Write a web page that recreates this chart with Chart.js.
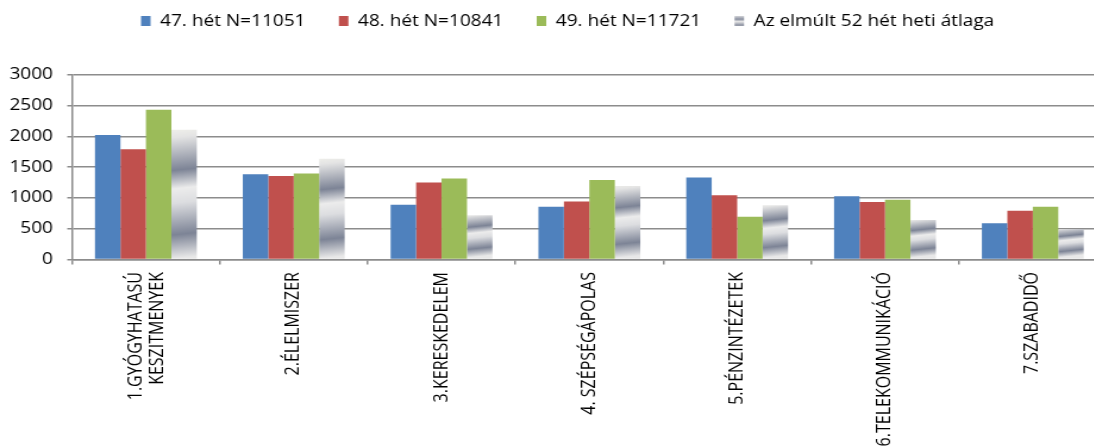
<!DOCTYPE html>
<html><head><meta charset="utf-8">
<script src="https://cdn.jsdelivr.net/npm/chart.js@4.4.1/dist/chart.umd.min.js"></script>
<style>
html,body{margin:0;padding:0;overflow:hidden;background:#fff;width:1094px;height:448px}
#wrap{position:absolute;left:0;top:0;width:930px;height:470px;transform:scaleX(1.19);transform-origin:0 0}
canvas{display:block}
</style></head><body>
<div id="wrap"><canvas id="c" width="930" height="470"></canvas></div>
<script>
const categories = [['1.GYÓGYHATASÚ','KESZITMENYEK'], '2.ÉLELMISZER', '3.KERESKEDELEM', '4. SZÉPSÉGÁPOLAS', '5.PÉNZINTÉZETEK', '6.TELEKOMMUNIKÁCIÓ', '7.SZABADIDŐ'];
const seriesNames = ['47. hét N=11051', '48. hét N=10841', '49. hét N=11721', 'Az elmúlt 52 hét heti átlaga'];
const week47 = [2020, 1385, 890, 855, 1330, 1025, 590];
const week48 = [1790, 1355, 1250, 940, 1045, 935, 790];
const week49 = [2430, 1395, 1315, 1290, 695, 970, 855];
const avg52 = [2105, 1635, 720, 1195, 880, 640, 495];
const yTicks = [0, 500, 1000, 1500, 2000, 2500, 3000];

const FONT = "'Open Sans'";
const GRID = '#8c8c8c';

function silverStops(g) {
  g.addColorStop(0, '#f2f2ec');
  g.addColorStop(0.08, '#e4e4e4');
  g.addColorStop(0.33, '#7d8496');
  g.addColorStop(0.47, '#ececec');
  g.addColorStop(0.58, '#dcdde0');
  g.addColorStop(0.82, '#7d8496');
  g.addColorStop(1, '#e8e8e8');
  return g;
}
function legendSilver(c) {
  const g = c.createLinearGradient(0, 15, 0, 27);
  g.addColorStop(0, '#e8e8e8');
  g.addColorStop(0.35, '#8a90a0');
  g.addColorStop(0.55, '#e6e6e6');
  g.addColorStop(0.85, '#8a90a0');
  g.addColorStop(1, '#d8d8d8');
  return g;
}
function silverFill(ctx) {
  const chart = ctx.chart, c = chart.ctx;
  if (ctx.type !== 'data') return legendSilver(c);
  const xs = chart.scales.x, ys = chart.scales.y;
  if (!xs || !ys || !chart.chartArea) return '#c0c3cc';
  const top = ys.getPixelForValue(ctx.raw), base = ys.getPixelForValue(0);
  const cx = xs.getPixelForValue(ctx.dataIndex);
  const h = Math.max(base - top, 1);
  return silverStops(c.createLinearGradient(cx, top, cx + h * 0.12, base));
}

const layoutTweak = {
  id: 'layoutTweak',
  beforeLayout(chart) {
    const lg = chart.legend;
    if (lg && !lg._patched) {
      const fit = lg.fit;
      lg.fit = function () { fit.call(this); this.height = 74.7; };
      lg._patched = true;
    }
  },
  afterLayout(chart) {
    const lg = chart.legend;
    lg.top -= 15; lg.bottom -= 15;
    lg.left += 12; lg.right += 12;
  },
  beforeDraw(chart) {
    // centre the two-line first category label on its tick, as in the source chart
    const items = chart.scales.x.getLabelItems();
    const it = items[0];
    if (it && Array.isArray(it.label) && !it._centred) {
      it.options.translation[0] -= 8;
      it._centred = true;
    }
  }
};

new Chart(document.getElementById('c'), {
  type: 'bar',
  data: {
    labels: categories,
    datasets: [
      { label: seriesNames[0], data: week47, backgroundColor: '#4F81BD' },
      { label: seriesNames[1], data: week48, backgroundColor: '#C0504D' },
      { label: seriesNames[2], data: week49, backgroundColor: '#9BBB59' },
      { label: seriesNames[3], data: avg52, backgroundColor: silverFill }
    ]
  },
  options: {
    responsive: false,
    animation: false,
    devicePixelRatio: 1,
    layout: { padding: 0 },
    datasets: { bar: { categoryPercentage: 0.689, barPercentage: 1, borderWidth: 0 } },
    plugins: {
      tooltip: { enabled: false },
      legend: {
        position: 'top',
        align: 'center',
        labels: {
          boxWidth: 8, boxHeight: 10, padding: 28, color: '#000',
          font: { family: FONT, size: 16 },
          generateLabels(chart) {
            const items = Chart.defaults.plugins.legend.labels.generateLabels(chart);
            items.forEach(it => {
              if (chart.data.datasets[it.datasetIndex].backgroundColor === silverFill) {
                it.fillStyle = legendSilver(chart.ctx);
              }
            });
            return items;
          }
        }
      }
    },
    scales: {
      x: {
        grid: { drawOnChartArea: false, drawTicks: true, tickLength: 5, color: GRID, lineWidth: 1.5, offset: true },
        border: { display: true, color: GRID, width: 1.5 },
        ticks: { minRotation: 90, maxRotation: 90, autoSkip: false, padding: 7.5, color: '#000',
                 font: { family: FONT, size: 16, lineHeight: 1.12 } },
        afterFit(s) { s.height = 470 - 259.5; }
      },
      y: {
        min: 0, max: 3000,
        afterBuildTicks(s) { s.ticks = yTicks.map(v => ({ value: v })); },
        ticks: { padding: 12, color: '#000', font: { family: FONT, size: 16 }, callback: v => String(v) },
        grid: { color: GRID, lineWidth: 1.5, tickLength: 4, drawTicks: true },
        border: { display: true, color: GRID, width: 1.5 },
        afterFit(s) { s.width = 60.5; }
      }
    }
  },
  plugins: [layoutTweak]
});
</script>
</body></html>
